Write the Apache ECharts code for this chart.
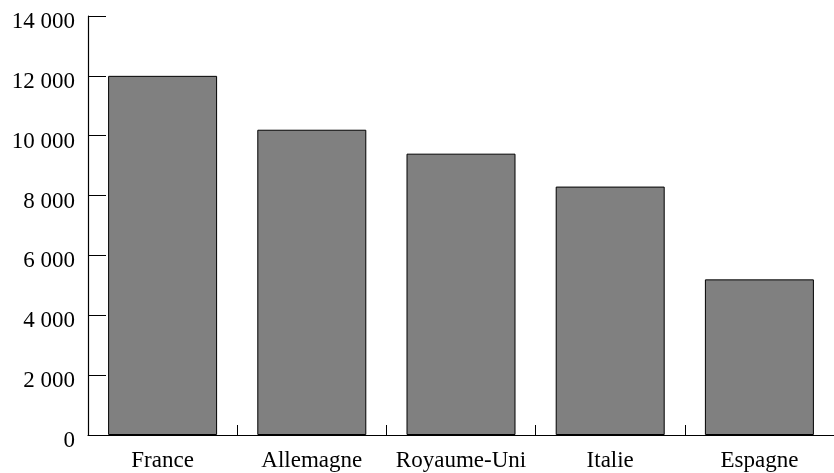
<!DOCTYPE html>
<html>
<head>
<meta charset="utf-8">
<script src="https://cdn.jsdelivr.net/npm/echarts@6/dist/echarts.min.js"></script>
<style>
html,body{margin:0;padding:0;background:#fff;}
#chart{width:834px;height:473px;}
</style>
</head>
<body>
<div id="chart"></div>
<script>
const categories = ["France", "Allemagne", "Royaume-Uni", "Italie", "Espagne"];
const values = [12000, 10200, 9400, 8300, 5200];
const yTicks = [0, 2000, 4000, 6000, 8000, 10000, 12000, 14000];

function fmt(v) {
  return String(v).replace(/\B(?=(\d{3})+(?!\d))/g, " ");
}

const chart = echarts.init(document.getElementById('chart'));
chart.setOption({
  animation: false,
  backgroundColor: '#fff',
  grid: { left: 88, top: 16, width: 754, bottom: 38, containLabel: false },
  xAxis: {
    type: 'category',
    data: categories,
    axisLine: { show: true, lineStyle: { color: '#000', width: 1.2 } },
    axisTick: { show: true, inside: true, length: 10, alignWithLabel: false, lineStyle: { color: '#000', width: 1 } },
    axisLabel: { color: '#000', fontFamily: 'Liberation Serif', fontSize: 23, margin: 14, interval: 0 },
    splitLine: { show: false }
  },
  yAxis: {
    type: 'value',
    min: yTicks[0],
    max: yTicks[yTicks.length - 1],
    interval: 2000,
    axisLine: { show: true, lineStyle: { color: '#000', width: 1.2 } },
    axisTick: { show: true, inside: true, length: 18, lineStyle: { color: '#000', width: 1 } },
    axisLabel: { color: '#000', fontFamily: 'Liberation Serif', fontSize: 23, margin: 13, verticalAlign: 'top', lineHeight: 12, formatter: fmt },
    splitLine: { show: false }
  },
  series: [{
    type: 'bar',
    data: values,
    barWidth: 109,
    itemStyle: { color: '#808080', borderColor: '#000', borderWidth: 1 }
  }]
});
</script>
</body>
</html>
